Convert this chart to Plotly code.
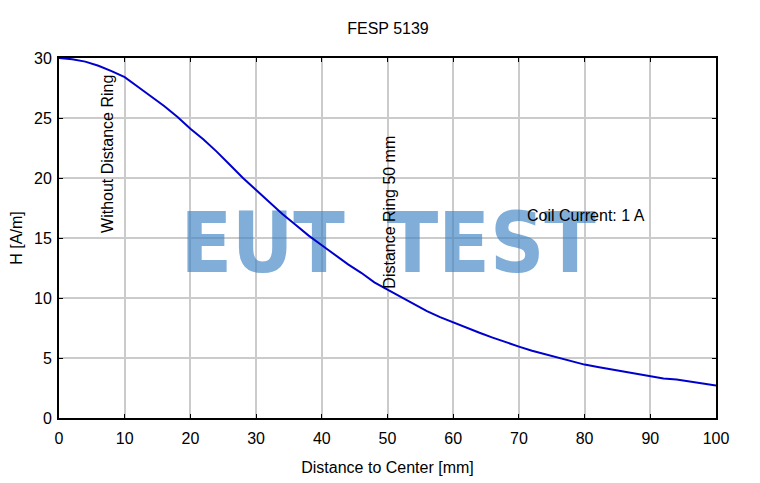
import plotly.graph_objects as go

# measured field strength along the axis of the loop
distance_mm = [0, 2, 4, 6, 8, 10, 12, 14, 16, 18, 20, 22, 24, 26, 28, 30, 32, 34, 36, 38, 40,
               42, 44, 46, 48, 50, 52, 54, 56, 58, 60, 62, 64, 66, 68, 70, 72, 74, 76, 78, 80,
               82, 84, 86, 88, 90, 92, 94, 96, 98, 100]
h_field = [30.0, 29.9, 29.7, 29.35, 28.9, 28.4, 27.6, 26.8, 26.0, 25.1, 24.1, 23.2, 22.2, 21.1,
           20.0, 19.0, 18.0, 17.0, 16.1, 15.2, 14.4, 13.6, 12.8, 12.1, 11.3, 10.7, 10.1, 9.5,
           8.9, 8.4, 7.95, 7.5, 7.1, 6.7, 6.3, 5.95, 5.6, 5.3, 5.0, 4.7, 4.45, 4.25, 4.05, 3.85,
           3.65, 3.45, 3.3, 3.2, 3.05, 2.85, 2.7]

x_ticks = [0, 10, 20, 30, 40, 50, 60, 70, 80, 90, 100]
y_ticks = [0, 5, 10, 15, 20, 25, 30]

# watermark words
wm_words = ['EUT', 'TEST']
wm_x = [31.0, 65.8]

font = 'Liberation Sans, Arial, sans-serif'

fig = go.Figure()

# watermark drawn as a text trace so the curve stays on top
fig.add_scatter(x=wm_x, y=[13.9] * len(wm_x), mode='text', text=wm_words,
                textfont=dict(family='DejaVu Sans Condensed', size=84, weight='bold',
                              color='rgba(60,130,195,0.65)'),
                textposition='middle center', hoverinfo='skip', showlegend=False)

fig.add_scatter(x=distance_mm, y=h_field, mode='lines',
                line=dict(color='#0000cc', width=2), showlegend=False)

fig.add_annotation(x=7.3, y=22.0, text='Without Distance Ring', textangle=-90, showarrow=False,
                   font=dict(family=font, size=16, color='black'))
fig.add_annotation(x=50.3, y=17.15, text='Distance Ring 50 mm', textangle=-90, showarrow=False,
                   font=dict(family=font, size=16, color='black'))
fig.add_annotation(x=80.2, y=16.9, text='Coil Current: 1 A', showarrow=False,
                   font=dict(family=font, size=16, color='black'))

# page body has an 8px margin, so the plot frame is shifted back by that much
fig.update_layout(
    width=760, height=483,
    margin=dict(l=51, r=52, t=50, b=73),
    paper_bgcolor='white', plot_bgcolor='white',
    font=dict(family=font, size=16, color='black'),
    title=dict(text='FESP 5139', x=0.5, xanchor='center', y=0.958, yanchor='middle',
               font=dict(family=font, size=16, color='black')),
)
fig.update_xaxes(range=[0, 100], tickvals=x_ticks, automargin=False, ticklabelstandoff=5,
                 title=dict(text='Distance to Center [mm]', standoff=16, font=dict(size=16)),
                 showgrid=True, gridcolor='#cbcbcb', gridwidth=2,
                 showline=True, linecolor='black', linewidth=2, mirror='ticks',
                 ticks='inside', ticklen=4, tickcolor='black', zeroline=False)
fig.update_yaxes(range=[0, 30], tickvals=y_ticks, automargin=False, ticklabelstandoff=2,
                 title=dict(text='H [A/m]', standoff=12, font=dict(size=16)),
                 showgrid=True, gridcolor='#cbcbcb', gridwidth=2,
                 showline=True, linecolor='black', linewidth=2, mirror='ticks',
                 ticks='inside', ticklen=4, tickcolor='black', zeroline=False)

fig.write_html("out.html")
